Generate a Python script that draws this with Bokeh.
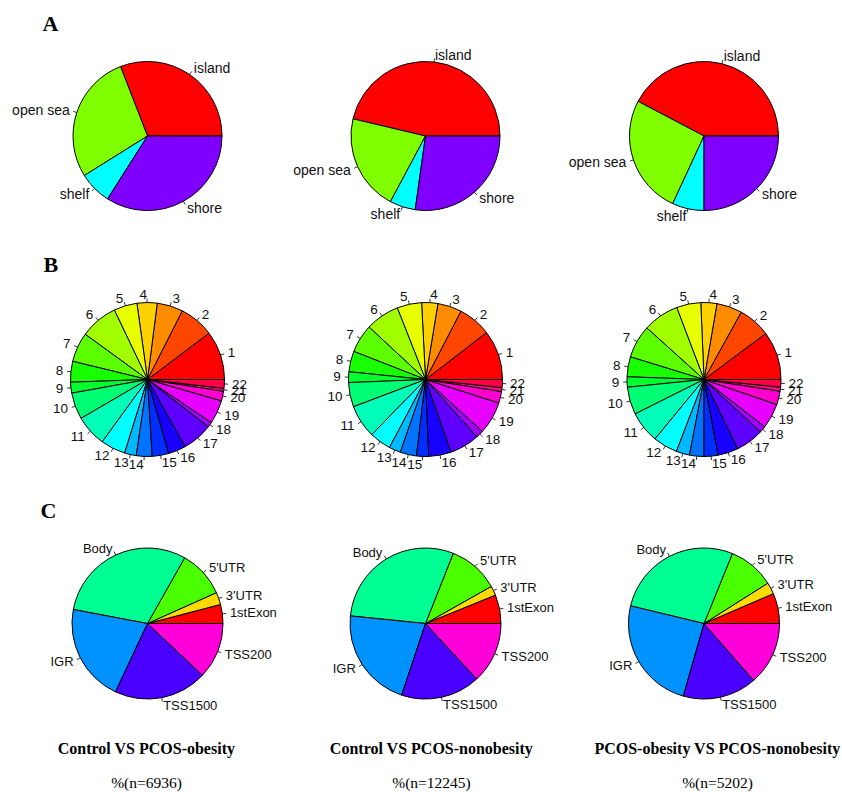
import math
import colorsys
from bokeh.plotting import figure
from bokeh.models import Range1d, ColumnDataSource
from bokeh.embed import file_html
from bokeh.resources import INLINE
from bokeh.core.properties import value

# ---------------- data (percent of DMPs) ----------------
region_labels = ["island", "open sea", "shelf", "shore"]
region_ctrl_obese = [30.9, 28.0, 7.1, 34.0]
region_ctrl_nonobese = [46.3, 20.9, 5.6, 27.2]
region_obese_nonobese = [42.3, 25.8, 6.9, 25.0]

chrom_labels = [str(i) for i in range(1, 23)]
chrom_ctrl_obese = [10.28, 7.25, 5.44, 4.22, 4.89, 7.92, 6.19, 4.36, 2.28, 5.58, 6.58,
                    5.19, 2.47, 3.31, 3.47, 3.72, 6.33, 1.06, 4.97, 2.03, 0.61, 1.83]
chrom_ctrl_nonobese = [10.44, 6.94, 5.03, 3.39, 5.17, 7.11, 5.97, 4.33, 2.25, 5.11, 6.94,
                       4.56, 2.44, 3.44, 2.53, 4.72, 6.28, 1.58, 6.83, 2.42, 0.83, 1.67]
chrom_obese_nonobese = [10.19, 6.78, 5.33, 3.36, 5.11, 7.56, 6.92, 4.19, 2.17, 5.78, 6.64,
                        5.14, 2.81, 3.03, 2.94, 4.28, 5.86, 1.39, 5.25, 2.83, 0.86, 1.58]

feature_labels = ["1stExon", "3'UTR", "5'UTR", "Body", "IGR", "TSS1500", "TSS200"]
feature_ctrl_obese = [4.06, 2.64, 10.11, 30.22, 21.00, 19.97, 12.00]
feature_ctrl_nonobese = [6.14, 2.03, 10.83, 29.39, 21.50, 17.00, 13.11]
feature_obese_nonobese = [6.47, 2.50, 9.89, 27.39, 24.33, 15.86, 13.56]

comparisons = ["Control VS PCOS-obesity", "Control VS PCOS-nonobesity",
               "PCOS-obesity VS PCOS-nonobesity"]
sample_sizes = [6936, 12245, 5202]
panel_letters = ["A", "B", "C"]

rows = [
    (region_labels, [region_ctrl_obese, region_ctrl_nonobese, region_obese_nonobese]),
    (chrom_labels, [chrom_ctrl_obese, chrom_ctrl_nonobese, chrom_obese_nonobese]),
    (feature_labels, [feature_ctrl_obese, feature_ctrl_nonobese, feature_obese_nonobese]),
]

# ---------------- layout (page pixel coords) ----------------
W, H = 842, 792
def Y(py):
    return H - py

col_x = [147, 425, 703.5]
row_y = [135.5, 379, 623]
radii = [74.5, 77, 75.5]
label_sizes = ["14px", "13.5px", "13px"]
letter_pos = [(42, 22.5), (43, 264), (40, 510)]
title_x = [146, 431, 717]

def rainbow(n):
    cols = []
    for i in range(n):
        r, g, b = colorsys.hsv_to_rgb(i / n, 1, 1)
        cols.append("#%02X%02X%02X" % (round(r * 255), round(g * 255), round(b * 255)))
    return cols

p = figure(width=W, height=H, output_backend="svg", toolbar_location=None,
           x_range=Range1d(0, W), y_range=Range1d(0, H),
           x_axis_location=None, y_axis_location=None, min_border=0,
           outline_line_color=None, background_fill_color="white",
           border_fill_color="white")
p.grid.visible = False

for ri, (labels, series) in enumerate(rows):
    R = radii[ri]
    colors = rainbow(len(labels))
    for ci, vals in enumerate(series):
        cx, cy = col_x[ci], Y(row_y[ri])
        total = float(sum(vals))
        starts, ends = [], []
        acc = 0.0
        for v in vals:
            starts.append(2 * math.pi * acc / total)
            acc += v
            ends.append(2 * math.pi * acc / total)
        src = ColumnDataSource(dict(x=[cx] * len(vals), y=[cy] * len(vals),
                                    s=starts, e=ends, c=colors))
        p.wedge(x="x", y="y", radius=R, start_angle="s", end_angle="e",
                fill_color="c", line_color="black", line_width=1, source=src)
        x0, y0, x1, y1, tx, ty, al = [], [], [], [], [], [], []
        for s, e in zip(starts, ends):
            m = (s + e) / 2
            cm, sm = math.cos(m), math.sin(m)
            x0.append(cx + R * cm); y0.append(cy + R * sm)
            x1.append(cx + 1.05 * R * cm); y1.append(cy + 1.05 * R * sm)
            tx.append(cx + 1.1 * R * cm); ty.append(cy + 1.1 * R * sm)
            al.append("right" if cm < 0 else "left")
        p.segment(x0=x0, y0=y0, x1=x1, y1=y1, line_color="black", line_width=0.8)
        lsrc = ColumnDataSource(dict(x=tx, y=ty, t=list(labels), a=al))
        p.text(x="x", y="y", text="t", text_align="a", source=lsrc,
               text_baseline="middle", text_font=value("Liberation Sans"),
               text_font_size=label_sizes[ri], text_color="#111111")

# panel letters
p.text(x=[lp[0] for lp in letter_pos], y=[Y(lp[1]) for lp in letter_pos],
       text=panel_letters, text_font=value("Liberation Serif"),
       text_font_style="bold", text_font_size="22px", text_align="left",
       text_baseline="middle", text_color="black")

# bottom titles
p.text(x=title_x, y=[Y(748)] * 3, text=comparisons,
       text_font=value("Liberation Serif"), text_font_style="bold",
       text_font_size="16px", text_align="center", text_baseline="middle",
       text_color="black")
p.text(x=title_x, y=[Y(782)] * 3, text=["%%(n=%d)" % n for n in sample_sizes],
       text_font=value("Liberation Serif"), text_font_size="15.5px",
       text_align="center", text_baseline="middle", text_color="black")

open("out.html", "w").write(file_html(p, INLINE))
